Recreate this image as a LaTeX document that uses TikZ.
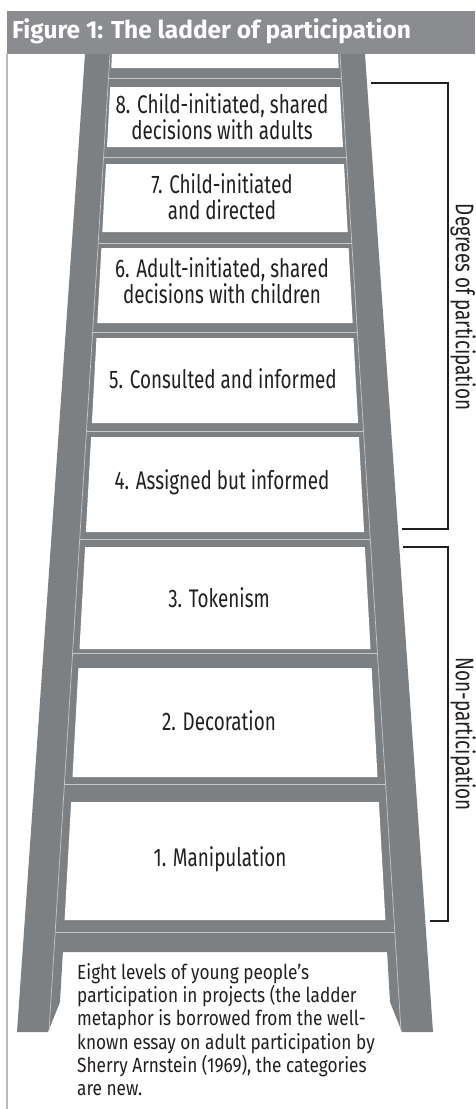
\documentclass[tikz,border=0pt]{standalone}
\usepackage{fontspec}
\setmainfont[FakeStretch=0.74]{Fira Sans}
\newfontfamily\titlefont{Fira Sans}
\newfontfamily\notefont[FakeStretch=0.84]{Fira Sans}
\usepackage{tikz}
\usetikzlibrary{positioning}
\definecolor{railgray}{RGB}{125,128,131}
\definecolor{bargray}{RGB}{138,140,143}
\definecolor{hilite}{RGB}{196,198,200}
\definecolor{inkgray}{RGB}{35,31,32}

\begin{document}
\begin{tikzpicture}[
  x=1pt, y=-1pt,
  rail/.style={fill=railgray},
  gap/.style={fill=white},
  hl/.style={draw=hilite, line width=0.7pt},
  rung label/.style={font=\fontsize{25.5}{26}\selectfont, text=inkgray,
                     align=center, inner sep=0pt},
  note/.style={font=\notefont\fontsize{20.5}{23.3}\selectfont, text=inkgray,
               align=left, inner sep=0pt},
  brace/.style={draw=inkgray, line width=1.6pt},
  side/.style={rotate=-90, font=\fontsize{25.5}{26}\selectfont, text=inkgray,
               inner sep=0pt},
]
\useasboundingbox[fill=white] (0,0) rectangle (475,1109);

% title bar and frame
\fill[bargray] (7,11) rectangle (475,54);
\node[anchor=base west, inner sep=0pt, text=white,
      font=\titlefont\bfseries\fontsize{24.5}{24.5}\selectfont] (title) at (12,38)
      {Figure 1: The ladder of participation};
\draw[gray!55, line width=1.2pt] (7,54) -- (7,1109);

% ladder body
\path[rail] (85,54) -- (17,1032) -- (48,1032) -- (60,1002) -- (62.9,952)
  -- (387.1,952) -- (390,1002) -- (402,1032) -- (433,1032) -- (365,54) -- cycle;

% spaces between the rungs
\path[gap] (111.9,54) -- (338.1,54) -- (338.7,68) -- (111.3,68) -- cycle;
\path[gap] (110.2,87) -- (339.8,87) -- (343,147) -- (107,147) -- cycle;
\path[gap] (106,164) -- (344,164) -- (347.7,232) -- (102.3,232) -- cycle;
\path[gap] (101.4,248) -- (348.6,248) -- (352.7,323) -- (97.3,323) -- cycle;
\path[gap] (96.5,338) -- (353.5,338) -- (358.1,423) -- (91.9,423) -- cycle;
\path[gap] (91.1,437) -- (358.9,437) -- (364.1,532) -- (85.9,532) -- cycle;
\path[gap] (85.1,547) -- (364.9,547) -- (370.5,649) -- (79.5,649) -- cycle;
\path[gap] (78.4,668) -- (371.6,668) -- (377.5,777) -- (72.5,777) -- cycle;
\path[gap] (71.1,802) -- (378.9,802) -- (385.4,920) -- (64.6,920) -- cycle;

% light lines on rails and rungs
\draw[hl] (110,54) -- (49,1031);
\draw[hl] (340,54) -- (401,1031);
\draw[hl] (108.5,78) -- (341.5,78);
\draw[hl] (103.6,157) -- (346.4,157);
\draw[hl] (98.2,243) -- (351.8,243);
\draw[hl] (92.7,332) -- (357.3,332);
\draw[hl] (86.5,431) -- (363.5,431);
\draw[hl] (79.7,539) -- (370.3,539);
\draw[hl] (72.6,653) -- (377.4,653);
\draw[hl] (64.4,784) -- (385.6,784);
\draw[hl] (55.2,932) -- (394.8,932);

% levels
\node[rung label] (lvl8) at (222,117) {8. Child-initiated, shared\\decisions with adults};
\node[rung label] (lvl7) at (222,197) {7. Child-initiated\\and directed};
\node[rung label] (lvl6) at (222,281) {6. Adult-initiated, shared\\decisions with children};
\node[rung label] (lvl5) at (223,379) {5. Consulted and informed};
\node[rung label] (lvl4) at (222,482) {4. Assigned but informed};
\node[rung label] (lvl3) at (219,598) {3. Tokenism};
\node[rung label] (lvl2) at (219,721) {2. Decoration};
\node[rung label] (lvl1) at (220,859) {1. Manipulation};

% brackets
\draw[brace] (371,83) -| (448,529) -- (402,529);
\draw[brace] (403,547) -| (448,921) -- (430,921);
\node[side] (degrees) at (463,307) {Degrees of participation};
\node[side] (nonpart) at (463,734) {Non-participation};

% caption
\node[note, anchor=north west] (caption) at (77,963)
  {Eight levels of young people’s\\participation in projects (the ladder\\metaphor is borrowed from the well-\\known essay on adult participation by\\Sherry Arnstein (1969), the categories\\are new.};
\end{tikzpicture}
\end{document}
